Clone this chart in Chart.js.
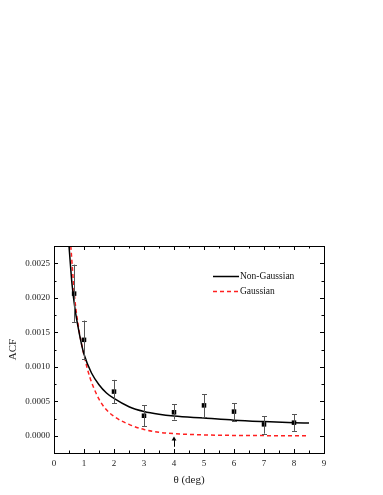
<!DOCTYPE html>
<html><head><meta charset="utf-8">
<script src="https://cdn.jsdelivr.net/npm/chart.js@4/dist/chart.umd.min.js"></script>
<style>html,body{margin:0;padding:0;background:#fff}#wrap{width:383px;height:495px}</style>
</head><body><div id="wrap"><canvas id="c" width="383" height="495"></canvas></div>
<script>
// Measured data
const obsTheta = [0.67, 1, 2, 3, 4, 5, 6, 7, 8];
const obsAcf   = [0.00206, 0.00139, 0.00064, 0.00029, 0.00034, 0.00044, 0.00035, 0.000165, 0.00019];
const obsHigh  = [0.00248, 0.00167, 0.00081, 0.00044, 0.00046, 0.00060, 0.00047, 0.000285, 0.00031];
const obsLow   = [0.00165, 0.00111, 0.00047, 0.00014, 0.000235, 0.000265, 0.00022, 0.00003, 0.00007];
// Upper-limit arrow point
const limTheta = [4];
const limAcf   = [-0.00005];
const limStem  = [-0.00016];
// Non-Gaussian model curve
const ngTheta = [0.5, 0.6, 0.7, 0.8, 0.9, 1.0, 1.25, 1.5, 1.75, 2.0, 2.5, 3.0, 3.5, 4.0, 5.0, 6.0, 7.0, 8.0, 8.5];
const ngAcf   = [0.00275, 0.00220, 0.00184, 0.00158, 0.00136, 0.00118, 0.00091, 0.00074, 0.00062, 0.00054, 0.00042, 0.00035, 0.00031, 0.000285, 0.000256, 0.000226, 0.000206, 0.00019, 0.000184];
// Gaussian model curve
const gTheta = [0.56, 0.69, 0.8, 0.9, 1.0, 1.1, 1.2, 1.3, 1.4, 1.5, 1.7, 2.0, 2.5, 3.0, 3.5, 4.0, 5.0, 6.0, 7.0, 8.0, 8.5];
const gAcf   = [0.00275, 0.0020, 0.00162, 0.00137, 0.00117, 0.00099, 0.00084, 0.00072, 0.00062, 0.00053, 0.00040, 0.00028, 0.000165, 0.00009, 0.00005, 0.00003, 0.000012, 0.000005, 0.000002, 0.0, 0.0];
const xTicks = [0,1,2,3,4,5,6,7,8,9];
const yTickLabels = ['0.0000','0.0005','0.0010','0.0015','0.0020','0.0025'];

const serif = "'Liberation Serif','DejaVu Serif',serif";

const toPts = (xs, ys) => xs.map((x, i) => ({x, y: ys[i]}));

const frame = {
  id: 'frame',
  afterDatasetsDraw(chart) {
    const {ctx, chartArea: a, scales: {x, y}} = chart;
    ctx.save();
    // error bars
    ctx.strokeStyle = '#555';
    ctx.lineWidth = 1;
    obsTheta.forEach((t, i) => {
      const px = Math.round(x.getPixelForValue(t)) + 0.5;
      const ph = y.getPixelForValue(obsHigh[i]);
      const pl = y.getPixelForValue(obsLow[i]);
      ctx.beginPath();
      ctx.moveTo(px, ph); ctx.lineTo(px, pl);
      ctx.moveTo(px - 2.5, Math.round(ph) + 0.5); ctx.lineTo(px + 2.5, Math.round(ph) + 0.5);
      ctx.moveTo(px - 2.5, Math.round(pl) + 0.5); ctx.lineTo(px + 2.5, Math.round(pl) + 0.5);
      ctx.stroke();
    });
    // arrow stem
    ctx.strokeStyle = '#000';
    limTheta.forEach((t, i) => {
      const px = Math.round(x.getPixelForValue(t)) + 0.5;
      ctx.beginPath();
      ctx.moveTo(px, y.getPixelForValue(limAcf[i]));
      ctx.lineTo(px, y.getPixelForValue(limStem[i]));
      ctx.stroke();
    });
    // frame
    ctx.strokeStyle = '#000';
    ctx.lineWidth = 1;
    ctx.strokeRect(Math.round(a.left) + 0.5, Math.round(a.top) + 0.5, Math.round(a.right - a.left), Math.round(a.bottom - a.top));
    // inward ticks on all sides
    ctx.beginPath();
    x.ticks.forEach(tk => {
      const px = Math.round(x.getPixelForValue(tk.value)) + 0.5;
      const major = Math.abs(tk.value - Math.round(tk.value)) < 1e-6;
      const len = major ? 4 : 2.5;
      ctx.moveTo(px, a.bottom); ctx.lineTo(px, a.bottom - len);
      ctx.moveTo(px, a.top); ctx.lineTo(px, a.top + len);
    });
    y.ticks.forEach(tk => {
      const py = Math.round(y.getPixelForValue(tk.value)) + 0.5;
      const k = Math.round(tk.value / 0.00025);
      const major = k % 2 === 0;
      const len = major ? 4 : 2.5;
      ctx.moveTo(a.left, py); ctx.lineTo(a.left + len, py);
      ctx.moveTo(a.right, py); ctx.lineTo(a.right - len, py);
    });
    ctx.stroke();
    // legend
    const ds = chart.data.datasets.filter(d => d.inLegend);
    ds.forEach((d, i) => {
      const ly = a.top + 30 + i * 15;
      const lx = a.left + 159;
      ctx.beginPath();
      ctx.strokeStyle = d.borderColor;
      ctx.lineWidth = d.borderWidth;
      ctx.setLineDash(d.borderDash || []);
      ctx.moveTo(lx, ly + 0.5); ctx.lineTo(lx + 26, ly + 0.5);
      ctx.stroke();
      ctx.setLineDash([]);
      ctx.fillStyle = '#111';
      ctx.font = '9.5px ' + serif;
      ctx.textBaseline = 'middle';
      ctx.fillText(d.label, lx + 27, ly);
    });
    ctx.restore();
  }
};

new Chart(document.getElementById('c'), {
  type: 'scatter',
  data: {
    datasets: [
      { label: 'Non-Gaussian', inLegend: true, data: toPts(ngTheta, ngAcf), showLine: true, borderColor: '#000', borderWidth: 1.5, pointRadius: 0, cubicInterpolationMode: 'monotone', order: 2 },
      { label: 'Gaussian', inLegend: true, data: toPts(gTheta, gAcf), showLine: true, borderColor: '#ff2020', borderWidth: 1.5, borderDash: [4, 3], pointRadius: 0, cubicInterpolationMode: 'monotone', order: 3 },
      { label: 'data', data: toPts(obsTheta, obsAcf), pointStyle: 'rect', pointRadius: 3.2, backgroundColor: '#000', borderColor: '#000', borderWidth: 0, order: 1 },
      { label: 'limit', data: toPts(limTheta, limAcf), pointStyle: 'triangle', pointRadius: 2.8, backgroundColor: '#000', borderColor: '#000', borderWidth: 0, order: 1 }
    ]
  },
  options: {
    responsive: false,
    animation: false,
    events: [],
    layout: { padding: { top: 246, right: 59, left: 0, bottom: 0 } },
    plugins: { legend: { display: false }, tooltip: { enabled: false } },
    scales: {
      x: {
        type: 'linear', min: 0, max: 9,
        afterFit(s) { s.height = 42; },
        grid: { display: false, drawTicks: false, tickLength: 0 },
        border: { display: false },
        ticks: {
          stepSize: 0.5, padding: 5, color: '#222', font: { family: serif, size: 9 },
          autoSkip: false, maxRotation: 0,
          callback(v) { return Math.abs(v - Math.round(v)) < 1e-6 ? String(xTicks[Math.round(v)]) : ''; }
        },
        title: { display: true, text: 'θ (deg)', color: '#222', font: { family: serif, size: 11 }, padding: { top: 0, bottom: 8 } }
      },
      y: {
        type: 'linear', min: -0.00025, max: 0.00275,
        afterFit(s) { s.width = 54; },
        grid: { display: false, drawTicks: false, tickLength: 0 },
        border: { display: false },
        ticks: {
          stepSize: 0.00025, padding: 4, color: '#222', font: { family: serif, size: 9 },
          autoSkip: false,
          callback(v) {
            const k = Math.round(v / 0.00025);
            if (k % 2 !== 0 || k < 0) return '';
            return yTickLabels[k / 2] || '';
          }
        },
        title: { display: true, text: 'ACF', color: '#222', font: { family: serif, size: 11 }, padding: { top: 7, bottom: 0 } }
      }
    }
  },
  plugins: [frame]
});
</script>
</body></html>
